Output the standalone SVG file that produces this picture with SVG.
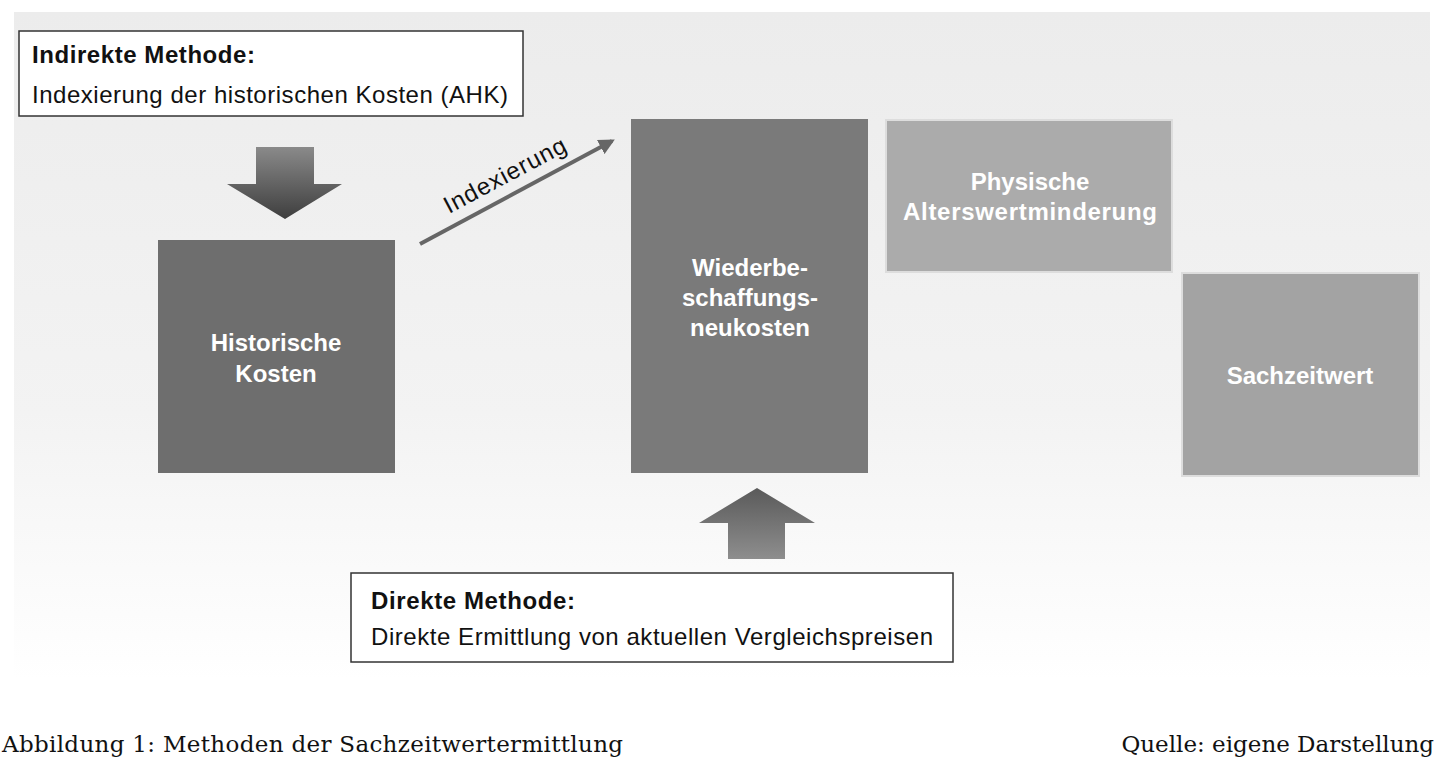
<svg xmlns="http://www.w3.org/2000/svg" width="1436" height="760" viewBox="0 0 1436 760">
<defs>
<linearGradient id="bg" x1="0" y1="0" x2="0" y2="1"><stop offset="0" stop-color="#ececec"/><stop offset="0.6" stop-color="#f3f3f3"/><stop offset="1" stop-color="#ffffff"/></linearGradient>
<linearGradient id="ad" x1="0" y1="0" x2="0" y2="1"><stop offset="0" stop-color="#8a8a8a"/><stop offset="1" stop-color="#3e3e3e"/></linearGradient>
<linearGradient id="au" x1="0" y1="0" x2="0" y2="1"><stop offset="0" stop-color="#5a5a5a"/><stop offset="1" stop-color="#8e8e8e"/></linearGradient>
<marker id="ah" viewBox="0 0 10 10" refX="8" refY="5" markerWidth="4" markerHeight="4" orient="auto"><path d="M0,0 L10,5 L0,10 z" fill="#666"/></marker>
<style>
.box{fill:#fff;stroke:#333;stroke-width:1.5}
.t{font-family:"Liberation Sans",Arial,sans-serif;font-size:24px;fill:#111}
.b{font-weight:bold}
.w{font-family:"Liberation Sans",Arial,sans-serif;font-size:24px;font-weight:bold;fill:#fff;text-anchor:middle}
.cap{font-family:"DejaVu Serif",serif;font-size:23px;fill:#111}
</style>
</defs>
<rect width="1436" height="760" fill="#fff"/>
<rect x="14" y="12" width="1416" height="668" fill="url(#bg)"/>
<g id="indirekt"><rect class="box" x="19" y="31" width="504" height="85"/>
<text class="t b" x="32" y="63" textLength="223">Indirekte Methode:</text>
<text class="t" x="32" y="103" textLength="476">Indexierung der historischen Kosten (AHK)</text></g>
<g id="pfeil-runter"><path d="M256,147 H314 V184 H342 L285,219 L227,184 H256 Z" fill="url(#ad)"/></g>
<g id="historisch"><rect x="158" y="240" width="237" height="233" fill="#6e6e6e"/>
<text class="w" x="276" y="351">Historische</text><text class="w" x="276" y="382">Kosten</text></g>
<g id="wbnk"><rect x="631" y="119" width="237" height="354" fill="#7a7a7a"/>
<text class="w" x="750" y="276">Wiederbe-</text><text class="w" x="750" y="306">schaffungs-</text><text class="w" x="750" y="336">neukosten</text></g>
<g id="physisch"><rect x="886" y="120" width="286" height="152" fill="#ababab" stroke="#ddd" stroke-width="2"/>
<text class="w" x="1030" y="190">Physische</text><text class="w" x="1030" y="220" textLength="254">Alterswertminderung</text></g>
<g id="sachzeitwert"><rect x="1182" y="273" width="237" height="203" fill="#a3a3a3" stroke="#ddd" stroke-width="2"/>
<text class="w" x="1300" y="384">Sachzeitwert</text></g>
<g id="pfeil-hoch"><path d="M728,559 H785 V523 H815 L757,488 L699,523 H728 Z" fill="url(#au)"/></g>
<g id="direkt"><rect class="box" x="351" y="573" width="602" height="89"/>
<text class="t b" x="371" y="609" textLength="204">Direkte Methode:</text>
<text class="t" x="371" y="645" textLength="562">Direkte Ermittlung von aktuellen Vergleichspreisen</text></g>
<g id="connectors"><line x1="420" y1="244" x2="612" y2="141" stroke="#666" stroke-width="4" marker-end="url(#ah)"/>
<text class="t" x="0" y="0" transform="translate(449,214) rotate(-28)" textLength="135">Indexierung</text></g>
<text class="cap" x="2" y="752" textLength="621">Abbildung 1: Methoden der Sachzeitwertermittlung</text>
<text class="cap" x="1434" y="752" text-anchor="end">Quelle: eigene Darstellung</text>
</svg>
